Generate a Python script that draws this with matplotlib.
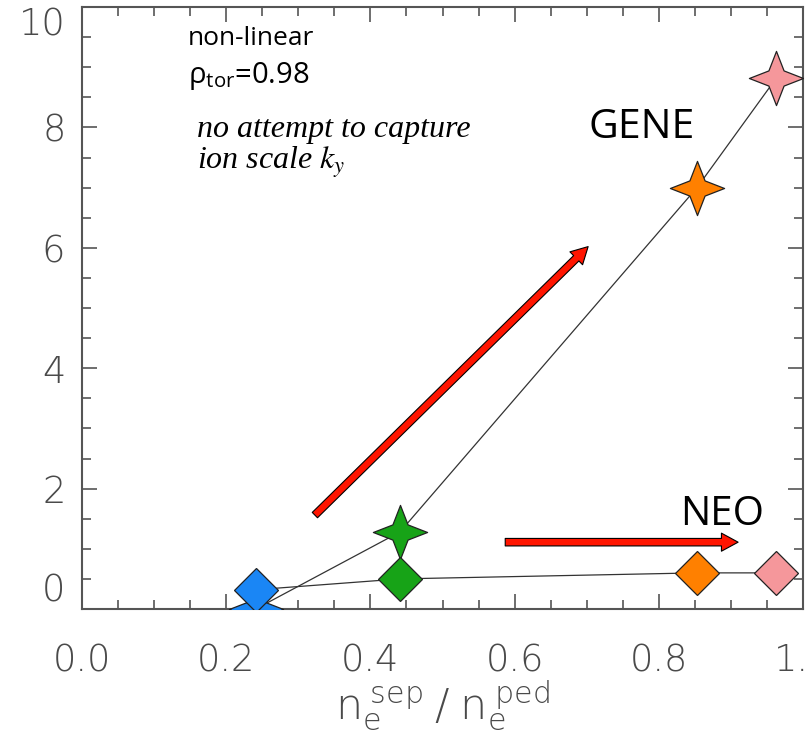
import numpy as np
import matplotlib
matplotlib.use('Agg')
import matplotlib.pyplot as plt
from matplotlib.path import Path
from matplotlib.ticker import MultipleLocator, FixedLocator

plt.rcParams['mathtext.fontset'] = 'stix'

# %% data
ratio = [0.241, 0.441, 0.853, 0.963]          # n_e^sep / n_e^ped
gene = [0.0, 1.28, 7.0, 8.82]                 # GENE, non-linear
neo = [0.32, 0.50, 0.60, 0.60]                # NEO
point_colors = ['#1a86f5', '#17a317', '#ff8000', '#f5979b']

# trend arrows (tail -> head, data coords)
gene_arrow = [(0.323, 1.56), (0.702, 6.02)]
neo_arrow = [(0.587, 1.11), (0.91, 1.11)]

xticks = [0.0, 0.2, 0.4, 0.6, 0.8, 1.0]
yticks = [0, 2, 4, 6, 8, 10]

# 4 pointed star marker
a = 0.28
star = Path([(0, 1), (a, a), (1, 0), (a, -a), (0, -1), (-a, -a), (-1, 0), (-a, a), (0, 1)],
            [Path.MOVETO] + [Path.LINETO] * 7 + [Path.CLOSEPOLY])

axcol = '#555555'
fig = plt.figure(figsize=(8.05, 7.40), dpi=100)
ax = fig.add_axes([82 / 805, 131 / 740, 721 / 805, 602 / 740])

ax.plot(ratio, gene, color='#333333', lw=0.9, zorder=2)
ax.plot(ratio, neo, color='#333333', lw=0.9, zorder=2)
for x, g, n, c in zip(ratio, gene, neo, point_colors):
    ax.plot(x, g, marker=star, ms=39, mfc=c, mec='#222222', mew=0.9, ls='none', zorder=3)
    ax.plot(x, n, marker='D', ms=22, mfc=c, mec='#222222', mew=0.9, ls='none', zorder=4)

for tail, head in [gene_arrow, neo_arrow]:
    ax.annotate('', xy=head, xytext=tail,
                arrowprops=dict(arrowstyle='simple,head_length=0.6,head_width=0.65,tail_width=0.27',
                                mutation_scale=20, fc='#ff1500', ec='black', lw=0.8,
                                shrinkA=0, shrinkB=0), zorder=5)

ax.set_xlim(0, 1.0)
ax.set_ylim(0, 10)
ax.xaxis.set_major_locator(FixedLocator(xticks))
ax.xaxis.set_minor_locator(MultipleLocator(0.05))
ax.yaxis.set_major_locator(FixedLocator(yticks))
ax.yaxis.set_minor_locator(MultipleLocator(0.5))
ax.set_xticklabels(['%.1f' % t for t in xticks])
ax.set_yticklabels([str(t) for t in yticks])

ax.tick_params(which='both', direction='in', top=True, right=True, color=axcol, width=1.2,
               labelsize=26.5, labelcolor='#4a4a4a')
ax.tick_params(which='major', length=11)
ax.tick_params(which='minor', length=6.5)
ax.tick_params(axis='x', pad=24)
ax.tick_params(axis='y', pad=12)
for s in ax.spines.values():
    s.set_color(axcol)
    s.set_linewidth(1.5)
for lab in ax.get_xticklabels() + ax.get_yticklabels():
    lab.set_fontweight('light')
ylabs = ax.get_yticklabels()
ylabs[0].set_va('bottom')
ylabs[-1].set_va('top')

ax.set_xlabel(r'$\mathregular{n_e^{\ sep}\ /\ n_e^{\ ped}}$', fontsize=31, color='#4a4a4a',
              labelpad=0, fontweight='light')

sans = 'Open Sans'
ax.text(0.147, 9.47, 'non-linear', family=sans, fontsize=19, va='center')
ax.text(0.147, 8.85, r'$\mathregular{ρ_{tor}}$=0.98', family=sans, fontsize=21, va='center')
ax.text(0.160, 7.97, 'no attempt to capture', family='Liberation Serif', style='italic',
        fontsize=23, va='center')
ax.text(0.160, 7.42, r'ion scale $k_y$', family='Liberation Serif', style='italic',
        fontsize=23, va='center')
ax.text(0.702, 8.0, 'GENE', family=sans, fontsize=29.5, va='center')
ax.text(0.829, 1.56, 'NEO', family=sans, fontsize=29, va='center')

fig.savefig('out.png', dpi=100)
